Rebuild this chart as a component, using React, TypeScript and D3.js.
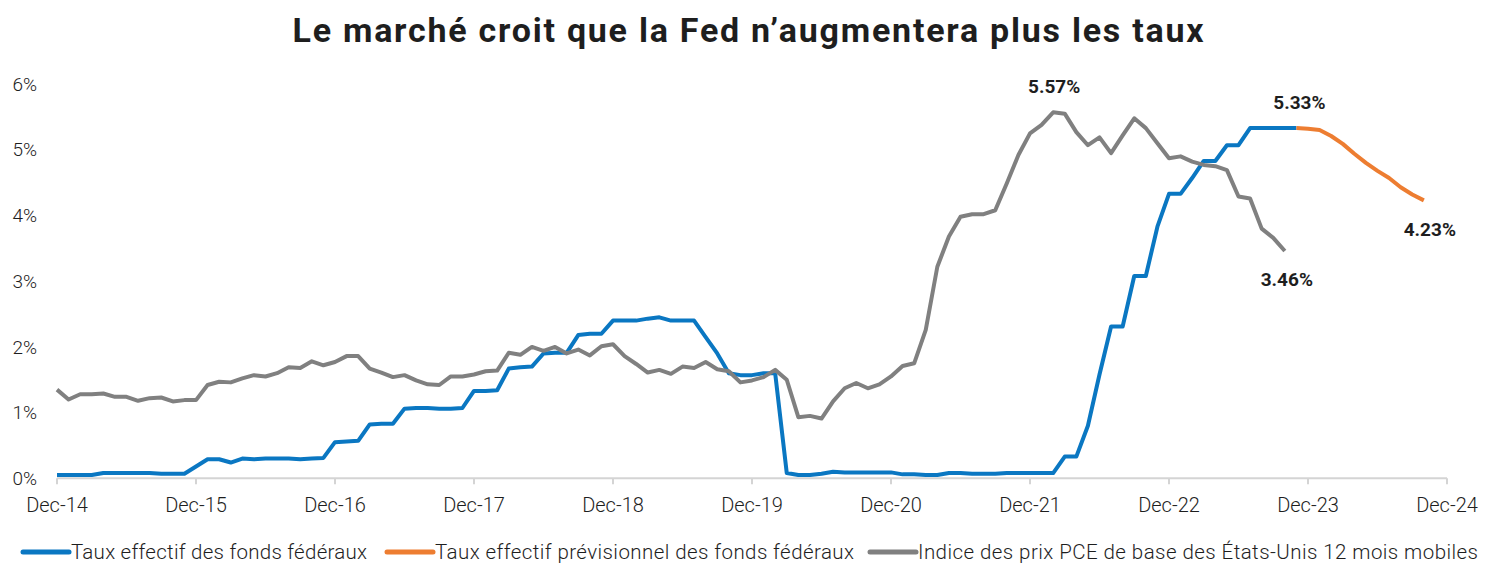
import React from "react";
import * as d3 from "d3";

// ---- Data (monthly, starting Dec-2014) ----
const startYear = 2014;
const startMonth = 11; // December (0-based)

// Effective Fed Funds rate, Dec-14 .. Nov-23
const fedFunds: number[] = [
  0.05, 0.05, 0.05, 0.05, 0.08, 0.08, 0.08, 0.08, 0.08, 0.07, 0.07, 0.07,
  0.18, 0.29, 0.29, 0.24, 0.30, 0.29, 0.30, 0.30, 0.30, 0.29, 0.30, 0.31,
  0.55, 0.56, 0.57, 0.82, 0.83, 0.83, 1.06, 1.07, 1.07, 1.06, 1.06, 1.07,
  1.33, 1.33, 1.34, 1.67, 1.69, 1.70, 1.90, 1.91, 1.91, 2.18, 2.20, 2.20,
  2.40, 2.40, 2.40, 2.43, 2.45, 2.40, 2.40, 2.40, 2.15, 1.90, 1.60, 1.57,
  1.57, 1.60, 1.60, 0.08, 0.05, 0.05, 0.07, 0.10, 0.09, 0.09, 0.09, 0.09,
  0.09, 0.06, 0.06, 0.05, 0.05, 0.08, 0.08, 0.07, 0.07, 0.07, 0.08, 0.08,
  0.08, 0.08, 0.08, 0.33, 0.33, 0.80, 1.58, 2.31, 2.31, 3.08, 3.08, 3.83,
  4.33, 4.33, 4.57, 4.83, 4.83, 5.07, 5.07, 5.33, 5.33, 5.33, 5.33, 5.33,
];

// Core PCE YoY, Dec-14 .. Oct-23
const pceCore: number[] = [
  1.35, 1.20, 1.28, 1.28, 1.29, 1.24, 1.24, 1.18, 1.22, 1.23, 1.17, 1.19,
  1.19, 1.42, 1.47, 1.46, 1.52, 1.57, 1.55, 1.60, 1.69, 1.68, 1.78, 1.72,
  1.77, 1.86, 1.86, 1.67, 1.61, 1.54, 1.57, 1.49, 1.43, 1.42, 1.55, 1.55,
  1.58, 1.63, 1.64, 1.91, 1.88, 2.00, 1.94, 2.00, 1.90, 1.96, 1.87, 2.01,
  2.04, 1.86, 1.74, 1.61, 1.65, 1.59, 1.70, 1.68, 1.77, 1.66, 1.63, 1.46,
  1.49, 1.54, 1.65, 1.50, 0.93, 0.95, 0.91, 1.17, 1.37, 1.45, 1.37, 1.43,
  1.55, 1.71, 1.75, 2.26, 3.22, 3.68, 3.98, 4.02, 4.02, 4.08, 4.49, 4.92,
  5.25, 5.38, 5.57, 5.55, 5.27, 5.07, 5.19, 4.95, 5.22, 5.48, 5.33, 5.10,
  4.87, 4.90, 4.82, 4.77, 4.75, 4.69, 4.29, 4.26, 3.80, 3.66, 3.46,
];

// Forecast effective Fed Funds, Nov-23 .. Oct-24
const forecastStart = 107;
const fedForecast: number[] = [
  5.33, 5.32, 5.30, 5.21, 5.09, 4.94, 4.80, 4.68, 4.57, 4.43, 4.32, 4.23,
];

const yTicks: number[] = [0, 1, 2, 3, 4, 5, 6];
const xTickMonths: number[] = [0, 12, 24, 36, 48, 60, 72, 84, 96, 108, 120];

const title = "Le marché croit que la Fed n’augmentera plus les taux";
const legendLabels = [
  "Taux effectif des fonds fédéraux",
  "Taux effectif prévisionnel des fonds fédéraux",
  "Indice des prix PCE de base des États-Unis 12 mois mobiles",
];

const COLORS = { blue: "#0a77c2", orange: "#ed7d31", gray: "#808080", axis: "#d4d4d4", text: "#1e1e1e" };
const FONT = "Roboto, 'Noto Sans', sans-serif";

const monthDate = (i: number) => new Date(startYear, startMonth + i, 1);
const fmtMonth = d3.timeFormat("%b-%y");
const fmtPct = (v: number) => `${v.toFixed(2)}%`;

export default function App() {
  const W = 1500, H = 586;
  const x = d3.scaleLinear().domain([0, 120]).range([57, 1447]);
  const y = d3.scaleLinear().domain([0, 6]).range([478.3, 84.1]);

  const line = d3
    .line<{ i: number; v: number }>()
    .x((d) => x(d.i))
    .y((d) => y(d.v));

  const blueData = fedFunds.map((v, i) => ({ i, v }));
  const grayData = pceCore.map((v, i) => ({ i, v }));
  const orangeData = fedForecast.map((v, k) => ({ i: forecastStart + k, v }));

  const peakIdx = d3.maxIndex(pceCore);
  const lastGray = pceCore.length - 1;
  const lastBlue = fedFunds.length - 1;
  const lastOrange = orangeData[orangeData.length - 1];

  const annotations = [
    { text: fmtPct(pceCore[peakIdx]), px: x(peakIdx) + 1, py: y(pceCore[peakIdx]) - 19 },
    { text: fmtPct(fedFunds[lastBlue]), px: x(lastBlue) + 3, py: y(fedFunds[lastBlue]) - 19 },
    { text: fmtPct(pceCore[lastGray]), px: x(lastGray) + 2, py: y(pceCore[lastGray]) + 35 },
    { text: fmtPct(lastOrange.v), px: x(lastOrange.i) + 6, py: y(lastOrange.v) + 36 },
  ];

  const legendItems = [
    { label: legendLabels[0], color: COLORS.blue, x0: 23, len: 296 },
    { label: legendLabels[1], color: COLORS.orange, x0: 387, len: 419 },
    { label: legendLabels[2], color: COLORS.gray, x0: 870, len: 560 },
  ];

  return (
    <svg
      width={W}
      height={H}
      viewBox={`0 0 ${W} ${H}`}
      style={{ position: "absolute", left: 0, top: 0, background: "#fff", display: "block" }}
    >
      <rect x={0} y={0} width={W} height={H} fill="#fff" />
      <text
        x={748}
        y={42}
        textAnchor="middle"
        fontFamily={FONT}
        fontWeight={700}
        fontSize={34}
        textLength={911}
        lengthAdjust="spacing"
        fill={COLORS.text}
      >
        {title}
      </text>

      {/* Y axis labels */}
      {yTicks.map((t) => (
        <text
          key={t}
          x={37}
          y={y(t)}
          dy="0.35em"
          textAnchor="end"
          fontFamily={FONT}
          fontWeight={300}
          fontSize={19}
          fill={COLORS.text}
        >
          {`${t}%`}
        </text>
      ))}

      {/* X axis */}
      <line x1={x(0)} x2={x(120)} y1={y(0)} y2={y(0)} stroke={COLORS.axis} strokeWidth={2} />
      {xTickMonths.map((m) => (
        <g key={m}>
          <line x1={x(m)} x2={x(m)} y1={y(0)} y2={y(0) + 6} stroke={COLORS.axis} strokeWidth={2} />
          <text
            x={x(m)}
            y={512}
            textAnchor="middle"
            fontFamily={FONT}
            fontWeight={300}
            fontSize={20}
            fill={COLORS.text}
          >
            {fmtMonth(monthDate(m))}
          </text>
        </g>
      ))}

      {/* Lines */}
      <path d={line(blueData) || ""} fill="none" stroke={COLORS.blue} strokeWidth={4} strokeLinejoin="round" />
      <path d={line(orangeData) || ""} fill="none" stroke={COLORS.orange} strokeWidth={4} strokeLinejoin="round" />
      <path d={line(grayData) || ""} fill="none" stroke={COLORS.gray} strokeWidth={4} strokeLinejoin="round" />

      {/* Annotations */}
      {annotations.map((a) => (
        <text
          key={a.text}
          x={a.px}
          y={a.py}
          textAnchor="middle"
          fontFamily={FONT}
          fontWeight={700}
          fontSize={19}
          fill={COLORS.text}
        >
          {a.text}
        </text>
      ))}

      {/* Legend */}
      {legendItems.map((it) => (
        <g key={it.label}>
          <line x1={it.x0} x2={it.x0 + 46} y1={552} y2={552} stroke={it.color} strokeWidth={5} strokeLinecap="round" />
          <text
            x={it.x0 + 48}
            y={559}
            fontFamily={FONT}
            fontWeight={300}
            fontSize={20.5}
            textLength={it.len}
            lengthAdjust="spacing"
            fill={COLORS.text}
          >
            {it.label}
          </text>
        </g>
      ))}
    </svg>
  );
}
